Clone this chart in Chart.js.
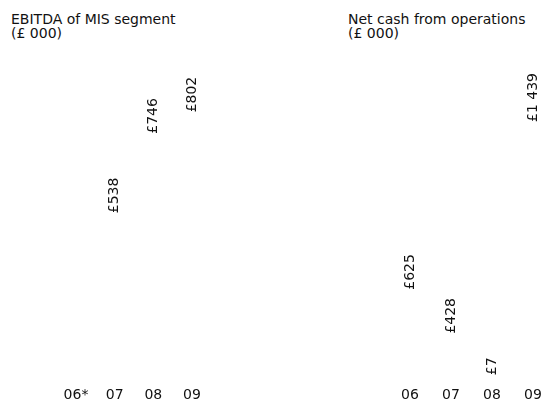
<!DOCTYPE html>
<html>
<head>
<meta charset="utf-8">
<script src="https://cdn.jsdelivr.net/npm/chart.js@4.4.1/dist/chart.umd.min.js"></script>
<style>
  html, body { margin: 0; padding: 0; background: #fff; }
  body { width: 544px; height: 403px; position: relative; overflow: hidden; }
  canvas { position: absolute; top: 0; }
  .title {
    position: absolute; top: 13px;
    font: 14px "DejaVu Sans", sans-serif; line-height: 13.5px; color: #111;
  }
</style>
</head>
<body>
<div class="title" style="left:11px">EBITDA of MIS segment<br>(£ 000)</div>
<div class="title" style="left:348px">Net cash from operations<br>(£ 000)</div>
<canvas id="ebitdaChart" width="272" height="403" style="left:0"></canvas>
<canvas id="cashChart" width="272" height="403" style="left:272px"></canvas>
<script>
// data
const ebitdaYears = ["06*", "07", "08", "09"];
const ebitdaValues = [null, 538, 746, 802];
const cashYears = ["06", "07", "08", "09"];
const cashValues = [625, 428, 7, 1439];

const FONT = "DejaVu Sans";
const TEXT = "#111";

function money(v) {
  return "£" + String(v).replace(/\B(?=(\d{3})+(?!\d))/g, " ");
}

// vertical value labels, reading bottom to top, hanging from the bar end
const barLabels = {
  id: "barLabels",
  afterDatasetsDraw(chart, args, opts) {
    const ctx = chart.ctx;
    const meta = chart.getDatasetMeta(0);
    const data = chart.data.datasets[0].data;
    ctx.save();
    ctx.font = "14px '" + FONT + "'";
    ctx.fillStyle = TEXT;
    ctx.textBaseline = "middle";
    ctx.textAlign = "right";
    meta.data.forEach((bar, i) => {
      const v = data[i];
      if (v == null) return;
      const txt = money(v);
      const w = ctx.measureText(txt).width;
      let top = bar.y + opts.offset;
      const maxBottom = chart.chartArea.bottom - 13;
      if (top + w > maxBottom) top = maxBottom - w;
      ctx.save();
      ctx.translate(bar.x, top);
      ctx.rotate(-Math.PI / 2);
      ctx.fillText(txt, 0, 0);
      ctx.restore();
    });
    ctx.restore();
  }
};

function makeBarChart(id, labels, values, yMax, padLeft, padRight, labelOffset) {
  return new Chart(document.getElementById(id), {
    type: "bar",
    data: {
      labels: labels,
      datasets: [{
        data: values,
        backgroundColor: "#ffffff",
        borderWidth: 0
      }]
    },
    options: {
      responsive: false,
      animation: false,
      layout: { padding: { top: 50, bottom: 0, left: padLeft, right: padRight } },
      plugins: {
        legend: { display: false },
        tooltip: { enabled: false },
        barLabels: { offset: labelOffset }
      },
      scales: {
        x: {
          offset: false,
          grid: { display: false, drawTicks: false },
          border: { display: false },
          ticks: { padding: -1, color: TEXT, font: { family: FONT, size: 14 } }
        },
        y: { display: false, min: 0, max: yMax }
      }
    },
    plugins: [barLabels]
  });
}

makeBarChart("ebitdaChart", ebitdaYears, ebitdaValues, 885, 76, 80, -5);
makeBarChart("cashChart", cashYears, cashValues, 1520, 138, 11, 5);
</script>
</body>
</html>
